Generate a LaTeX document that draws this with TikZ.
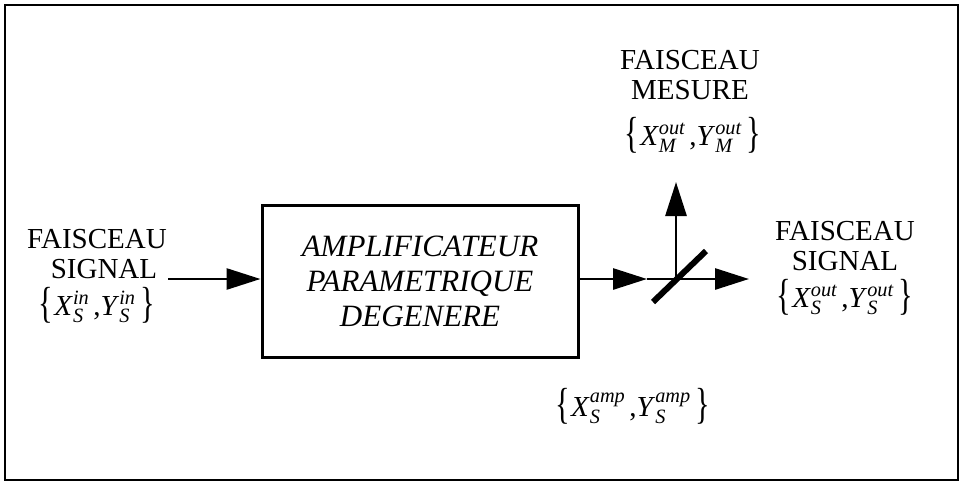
\RequirePackage{fix-cm}
\documentclass[tikz,border=0pt]{standalone}
\usepackage{amsmath}
\usepackage{graphicx}
\usepackage{fontspec}
\setmainfont{Liberation Serif}
\usetikzlibrary{arrows.meta}
\newcommand{\qv}[3]{\textit{#1}$_{\textit{#2}}^{\textit{#3}}$}
\newcommand{\lbr}{\raisebox{-0.06em}{\scalebox{1.05}[1.5]{\{}}}
\newcommand{\rbr}{\raisebox{-0.06em}{\scalebox{1.05}[1.5]{\}}}}
\newcommand{\qpair}[2]{\lbr\kern1pt\qv{X}{#1}{#2}\kern4pt,\qv{Y}{#1}{#2}\kern5pt\rbr}
\begin{document}
\begin{tikzpicture}[x=1pt,y=-1pt,
  lbl/.style={inner sep=0pt, align=center, font=\fontsize{29}{30}\selectfont},
  mth/.style={inner sep=0pt, font=\fontsize{29}{30}\selectfont},
  beam/.style={line width=2.8pt, -{Triangle[length=34pt,width=21pt]}},
  plain/.style={line width=2.8pt},
  ampbox/.style={draw, line width=3pt, minimum width=316pt, minimum height=152pt, inner sep=0pt, align=center, font=\fontsize{31}{35}\selectfont\itshape}]
\useasboundingbox (0,0) rectangle (963,485);
\draw[line width=2.5pt] (5,5) rectangle (958,480);
% box
\node[ampbox] (amp) at (420,281) {AMPLIFICATEUR\\PARAMETRIQUE\\DEGENERE};
% left labels
\node[lbl] (fin) at (97,254) {FAISCEAU\\\hspace*{14pt}SIGNAL};
\node[mth] (min) at (97,305) {\qpair{S}{in}};
\coordinate (lstart) at (168,279);
\draw[beam] (lstart) -- (amp.west |- lstart);
% right part
\coordinate (bs) at (676,279);
\coordinate (mid) at (647,279);
\draw[beam] (amp.east |- bs) -- (mid);
\draw[plain] (mid) -- (bs);
\coordinate (up) at (676,182);
\coordinate (right) at (749,279);
\draw[beam] (bs) -- (up);
\draw[beam] (bs) -- (right);
\coordinate (bs1) at (653,302);
\coordinate (bs2) at (706,251);
\draw[line width=6pt] (bs1) -- (bs2);
% top labels
\node[lbl] (fm) at (690,75) {FAISCEAU\\MESURE};
\node[mth] (mm) at (693,135) {\qpair{M}{out}};
% right labels
\node[lbl] (fs) at (845,246) {FAISCEAU\\SIGNAL};
\node[mth] (ms2) at (845,297) {\qpair{S}{out}};
% bottom label
\node[mth] (ma) at (633,406) {\qpair{S}{amp}};
\end{tikzpicture}
\end{document}
